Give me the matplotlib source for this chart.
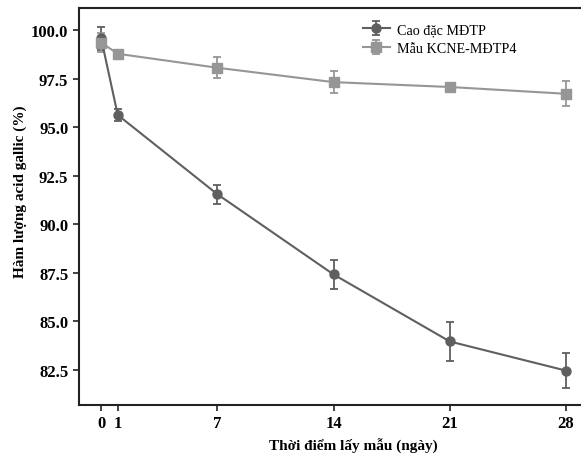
import matplotlib
matplotlib.use("Agg")
import matplotlib.pyplot as plt

days = [0, 1, 7, 14, 21, 28]
cao_dac = [99.58, 95.63, 91.55, 87.42, 83.97, 82.47]
cao_dac_err = [0.6, 0.3, 0.5, 0.75, 1.0, 0.9]
mau_kcne = [99.36, 98.78, 98.06, 97.32, 97.07, 96.72]
mau_kcne_err = [0.5, 0.18, 0.55, 0.55, 0.1, 0.65]
x_ticks = [0, 1, 7, 14, 21, 28]
y_ticks = [82.5, 85.0, 87.5, 90.0, 92.5, 95.0, 97.5, 100.0]

plt.rcParams['font.family'] = ['Liberation Serif', 'DejaVu Serif']

fig = plt.figure(figsize=(5.81, 4.56), dpi=100)
ax = fig.add_axes([0.1355, 0.1096, 0.8645, 0.8704])

c1 = '#5f5f5f'
c2 = '#969696'
ax.errorbar(days, cao_dac, yerr=cao_dac_err, color=c1, marker='o', markersize=6.5,
            linewidth=1.5, capsize=3, elinewidth=1.3, capthick=1.3, label='Cao đặc MĐTP')
ax.errorbar(days, mau_kcne, yerr=mau_kcne_err, color=c2, marker='s', markersize=6.5,
            linewidth=1.5, capsize=3, elinewidth=1.3, capthick=1.3, label='Mẫu KCNE-MĐTP4')

ax.set_xlim(-1.35, 28.9)
ax.set_ylim(80.7, 101.13)
ax.set_xticks(x_ticks)
ax.set_xticklabels([str(t) for t in x_ticks], fontweight='bold', fontsize=12)
ax.set_yticks(y_ticks)
ax.set_yticklabels([f'{t:.1f}' for t in y_ticks], fontweight='bold', fontsize=12)
ax.tick_params(direction='out', length=4, width=1.2, color='#222222')
ax.spines['right'].set_visible(False)
for s in ['left', 'bottom', 'top']:
    ax.spines[s].set_linewidth(1.5)
    ax.spines[s].set_color('#222222')

ax.set_xlabel('Thời điểm lấy mẫu (ngày)', fontweight='bold', fontsize=11)
ax.set_ylabel('Hàm lượng acid gallic (%)', fontweight='bold', fontsize=11)
ax.xaxis.set_label_coords(0.546, -0.083)
ax.yaxis.set_label_coords(-0.103, 0.539)

leg = ax.legend(loc='upper left', bbox_to_anchor=(0.566, 0.962), frameon=False,
                fontsize=10.2, handlelength=1.9, handletextpad=0.5, labelspacing=0.4,
                borderpad=0, borderaxespad=0)

fig.savefig('out.png', dpi=100)
